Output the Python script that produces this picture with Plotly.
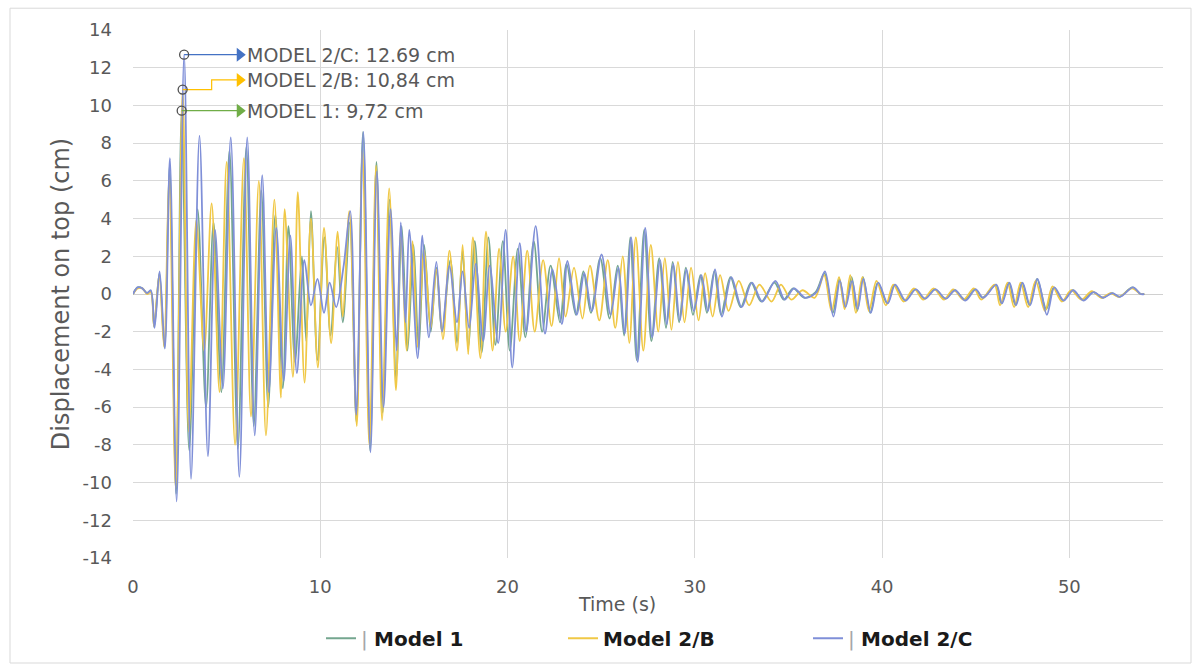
import plotly.graph_objects as go

# ---- data (time s, displacement cm), peaks and troughs ----
model_1 = [
    (0.0, 0.0), (0.25, 0.35), (0.5, 0.3), (0.75, 0.05), (0.95, 0.15), (1.13, -1.75), (1.41, 1.1),
    (1.68, -2.85), (1.95, 6.8), (2.3, -10.6), (2.6, 9.72), (3.0, -8.3), (3.45, 4.5), (3.9, -6.0),
    (4.3, 3.8), (4.72, -5.2), (5.15, 7.6), (5.6, -8.2), (6.05, 7.8), (6.45, -7.0), (6.85, 5.5),
    (7.22, -6.0), (7.6, 4.2), (8.0, -5.0), (8.3, 3.6), (8.65, -3.6), (9.02, 2.0), (9.25, -2.5),
    (9.5, 4.4), (9.85, -3.5), (10.22, 3.0), (10.55, -2.2), (10.9, 2.5), (11.2, -1.5), (11.58, 3.8),
    (11.93, -6.8), (12.28, 8.6), (12.66, -8.3), (13.0, 7.0), (13.33, -6.3), (13.7, 5.0), (14.05, -4.5),
    (14.35, 3.6), (14.66, -3.0), (14.98, 2.6), (15.25, -3.0), (15.55, 2.6), (15.9, -2.0), (16.2, 1.4),
    (16.5, -2.0), (16.95, 1.8), (17.3, -2.6), (17.6, 2.3), (17.9, -2.8), (18.25, 2.8), (18.62, -3.1),
    (18.98, 3.0), (19.35, -2.7), (19.75, 2.8), (20.12, -3.0), (20.55, 2.4), (20.95, -2.3), (21.4, 2.8),
    (21.85, -2.0), (22.3, 1.5), (22.8, -1.5), (23.15, 1.6), (23.65, -1.1), (24.05, 1.2), (24.45, -1.0),
    (24.95, 1.9), (25.45, -1.3), (25.88, 1.5), (26.22, -2.2), (26.55, 3.0), (26.9, -3.5), (27.3, 3.4),
    (27.68, -2.5), (28.1, 1.9), (28.46, -1.8), (28.82, 1.7), (29.16, -1.5), (29.52, 1.4), (29.9, -1.1),
    (30.3, 1.0), (30.65, -1.0), (31.04, 1.2), (31.4, -1.1), (31.9, 0.9), (32.45, -0.7), (33.0, 0.6),
    (33.55, -0.4), (34.25, 0.6), (34.75, -0.3), (35.25, 0.3), (35.85, -0.2), (36.45, 0.1), (36.92, 1.1),
    (37.37, -1.0), (37.72, 0.8), (38.02, -0.7), (38.37, 0.9), (38.67, -0.9), (38.98, 0.9), (39.37, -1.0),
    (39.77, 0.6), (40.27, -0.5), (40.67, 0.5), (41.22, -0.35), (41.77, 0.25), (42.27, -0.25), (42.82, 0.25),
    (43.37, -0.25), (43.87, 0.2), (44.42, -0.3), (44.97, 0.25), (45.37, -0.2), (46.07, 0.5), (46.37, -0.5),
    (46.77, 0.6), (47.12, -0.6), (47.47, 0.6), (47.87, -0.6), (48.27, 0.8), (48.77, -0.8), (49.17, 0.35),
    (49.67, -0.35), (50.17, 0.2), (50.72, -0.3), (51.27, 0.1), (51.77, -0.2), (52.27, 0.05), (52.67, -0.15),
    (53.37, 0.35), (53.8, 0.0), (54.0, 0.0),
]

model_2b = [
    (0.0, 0.0), (0.25, 0.3), (0.5, 0.3), (0.75, 0.0), (0.95, 0.1), (1.12, -1.7), (1.4, 1.0), (1.66, -2.8),
    (1.93, 6.2), (2.28, -10.3), (2.65, 10.84), (2.98, -7.3), (3.38, 3.9), (3.8, -3.0), (4.2, 4.8),
    (4.62, -5.2), (5.0, 7.0), (5.45, -8.0), (5.92, 7.2), (6.3, -6.5), (6.72, 6.0), (7.1, -7.5),
    (7.55, 5.0), (7.9, -5.5), (8.1, 4.5), (8.54, -4.4), (8.8, 5.4), (9.16, -4.7), (9.5, 4.0),
    (9.87, -3.9), (10.2, 3.5), (10.58, -2.6), (10.93, 3.3), (11.2, -1.2), (11.55, 4.4), (11.95, -7.0),
    (12.25, 7.6), (12.62, -8.0), (12.98, 6.8), (13.3, -6.7), (13.68, 5.6), (14.04, -5.1), (14.3, 3.4),
    (14.62, -3.0), (14.93, 2.8), (15.2, -2.8), (15.55, 2.3), (15.9, -1.8), (16.2, 1.3), (16.55, -2.4),
    (16.9, 2.3), (17.3, -3.0), (17.6, 2.6), (17.9, -3.2), (18.15, 3.0), (18.55, -3.4), (18.85, 3.3),
    (19.2, -3.0), (19.55, 2.4), (19.9, -2.0), (20.3, 2.0), (20.65, -2.5), (21.05, 2.3), (21.45, -2.0),
    (21.9, 1.8), (22.35, -1.7), (22.75, 1.9), (23.1, -1.2), (23.55, 1.4), (24.0, -1.3), (24.4, 1.5),
    (24.9, -1.4), (25.35, 1.8), (25.75, -1.8), (26.15, 2.0), (26.5, -2.6), (26.85, 3.0), (27.25, -3.0),
    (27.65, 2.6), (28.05, -2.0), (28.4, 1.9), (28.75, -1.9), (29.1, 1.7), (29.45, -1.5), (29.8, 1.4),
    (30.2, -1.4), (30.55, 1.1), (30.95, -1.2), (31.35, 1.0), (31.8, -0.9), (32.35, 0.7), (32.9, -0.6),
    (33.45, 0.5), (34.1, -0.4), (34.6, 0.5), (35.15, -0.3), (35.75, 0.2), (36.4, -0.2), (36.9, 1.0),
    (37.3, -0.9), (37.7, 0.9), (38.0, -0.8), (38.3, 1.0), (38.6, -1.0), (38.95, 0.9), (39.3, -0.9),
    (39.7, 0.7), (40.2, -0.6), (40.6, 0.5), (41.15, -0.4), (41.7, 0.3), (42.2, -0.3), (42.75, 0.3),
    (43.3, -0.3), (43.8, 0.25), (44.35, -0.3), (44.9, 0.3), (45.3, -0.3), (46.0, 0.5), (46.3, -0.6),
    (46.7, 0.6), (47.05, -0.7), (47.4, 0.6), (47.8, -0.7), (48.2, 0.7), (48.7, -0.9), (49.1, 0.4),
    (49.6, -0.4), (50.1, 0.2), (50.65, -0.3), (51.2, 0.15), (51.7, -0.2), (52.2, 0.05), (52.65, -0.15),
    (53.35, 0.3), (53.8, 0.0), (54.0, 0.0),
]

model_2c = [
    (0.0, 0.0), (0.25, 0.35), (0.5, 0.3), (0.75, 0.05), (0.95, 0.2), (1.15, -1.8), (1.42, 1.2),
    (1.7, -2.9), (1.97, 7.2), (2.33, -11.0), (2.73, 12.69), (3.1, -9.8), (3.55, 8.4), (4.0, -8.6),
    (4.38, 3.4), (4.8, -5.0), (5.22, 8.3), (5.68, -9.7), (6.1, 8.3), (6.5, -7.5), (6.9, 6.3),
    (7.25, -5.2), (7.65, 3.5), (8.05, -4.6), (8.4, 3.1), (8.75, -4.2), (9.15, 1.8), (9.5, -0.6),
    (9.85, 0.8), (10.2, -1.0), (10.5, 0.6), (10.85, -0.7), (11.25, 1.5), (11.6, 4.4), (11.92, -6.4),
    (12.3, 8.6), (12.68, -8.4), (13.02, 6.5), (13.38, -6.0), (13.75, 4.5), (14.08, -3.0), (14.3, 3.8),
    (14.55, -1.5), (14.75, 3.4), (15.2, -3.4), (15.45, 3.1), (15.8, -2.3), (16.2, 1.7), (16.5, -2.0),
    (16.9, 1.5), (17.3, -1.5), (17.6, 1.2), (17.95, -1.8), (18.3, 1.6), (18.7, -2.5), (19.05, 1.5),
    (19.5, -2.6), (19.9, 3.4), (20.25, -3.9), (20.65, 2.7), (21.0, -2.0), (21.5, 3.6), (22.0, -2.1),
    (22.4, 1.3), (22.9, -1.6), (23.2, 1.75), (23.7, -1.1), (24.1, 1.1), (24.5, -0.9), (25.02, 2.1),
    (25.5, -1.1), (25.92, 1.4), (26.25, -2.1), (26.6, 3.0), (26.95, -3.6), (27.35, 3.5), (27.72, -2.3),
    (28.15, 1.8), (28.5, -1.6), (28.85, 1.6), (29.2, -1.4), (29.55, 1.3), (29.95, -0.9), (30.35, 1.0),
    (30.7, -0.9), (31.08, 1.3), (31.45, -1.2), (31.95, 0.9), (32.5, -0.7), (33.05, 0.6), (33.6, -0.4),
    (34.3, 0.7), (34.8, -0.3), (35.3, 0.3), (35.9, -0.2), (36.5, 0.1), (36.95, 1.2), (37.4, -1.2),
    (37.75, 0.7), (38.05, -0.7), (38.4, 0.7), (38.7, -0.8), (39.0, 0.8), (39.4, -1.0), (39.8, 0.6),
    (40.3, -0.5), (40.7, 0.5), (41.25, -0.35), (41.8, 0.25), (42.3, -0.25), (42.85, 0.25), (43.4, -0.25),
    (43.9, 0.2), (44.45, -0.35), (45.0, 0.25), (45.4, -0.2), (46.1, 0.5), (46.4, -0.5), (46.8, 0.6),
    (47.15, -0.6), (47.5, 0.6), (47.9, -0.6), (48.3, 0.8), (48.8, -1.1), (49.2, 0.35), (49.7, -0.35),
    (50.2, 0.2), (50.75, -0.35), (51.3, 0.1), (51.8, -0.2), (52.3, 0.05), (52.7, -0.15), (53.4, 0.35),
    (53.8, 0.0), (54.0, 0.0),
]

series_data = [model_1, model_2b, model_2c]
series_names = ["Model 1", "Model 2/B", "Model 2/C"]
legend_labels = [
    '<span style="color:#a6a6a6">|</span> <b>Model 1</b>',
    '<b>Model 2/B</b>',
    '<span style="color:#a6a6a6">|</span> <b>Model 2/C</b>',
]
line_colors = ["#74A68F", "#F0C846", "#7F8FD8"]
accent_colors = ["#70AD47", "#FFC000", "#4472C4"]
peak_labels = ["MODEL 1: 9,72 cm", "MODEL 2/B: 10,84 cm", "MODEL 2/C: 12.69 cm"]
label_levels = [None, 11.35, None]   # None -> label at the peak level

x_ticks = [0, 10, 20, 30, 40, 50]
y_ticks = list(range(-14, 15, 2))
y_tick_text = [str(v) for v in y_ticks]   # plain hyphen-minus like the reference
x_tick_text = [str(v) for v in x_ticks]

FONT = "DejaVu Sans, Liberation Sans, sans-serif"
GREY = "#595959"

# layout geometry (pixels)
W, H = 1202, 670
ML, MR, MT, MB = 133, 39, 30, 107
PW, PH = W - ML - MR, H - MT - MB

fig = go.Figure()
legend_ids = ["legend", "legend2", "legend3"]
for data, name, lab, col, lg in zip(series_data, series_names, legend_labels, line_colors, legend_ids):
    t = [p[0] for p in data]
    v = [p[1] for p in data]
    fig.add_trace(go.Scatter(
        x=t, y=v, mode="lines", name=lab, legend=lg,
        line=dict(color=col, width=1.8, shape="spline", smoothing=0.9),
        hovertemplate=name + ": %{y:.2f} cm at %{x:.2f} s<extra></extra>",
    ))

# peak call-outs
arrow_t = 5.7
text_t = 6.0
elbow_t = 4.2
for data, col, lab, lvl in zip(series_data, accent_colors, peak_labels, label_levels):
    pk = max(data, key=lambda p: p[1])
    level = pk[1] if lvl is None else lvl
    if lvl is None:
        xs, ys = [pk[0], arrow_t], [pk[1], pk[1]]
    else:
        xs, ys = [pk[0], elbow_t, elbow_t, arrow_t], [pk[1], pk[1], level, level]
    fig.add_trace(go.Scatter(x=xs, y=ys, mode="lines", line=dict(color=col, width=1.2),
                             showlegend=False, hoverinfo="skip"))
    fig.add_trace(go.Scatter(x=[arrow_t], y=[level], mode="markers",
                             marker=dict(symbol="triangle-right", size=12, color=col),
                             showlegend=False, hoverinfo="skip"))
    fig.add_trace(go.Scatter(x=[pk[0]], y=[pk[1]], mode="markers",
                             marker=dict(symbol="circle-open", size=9, color="#505050",
                                         line=dict(width=1.3, color="#505050")),
                             showlegend=False, hoverinfo="skip"))
    fig.add_annotation(x=text_t, y=level, text=lab, showarrow=False, xanchor="left",
                       yanchor="middle", font=dict(family=FONT, size=19, color=GREY))

# x-axis title placed like the reference
fig.add_annotation(xref="paper", yref="paper", x=(617 - ML) / PW, y=-(609 - (MT + PH)) / PH,
                   text="Time (s)", showarrow=False, xanchor="center", yanchor="middle",
                   font=dict(family=FONT, size=19, color=GREY))

# outer chart border
fig.add_shape(type="rect", xref="paper", yref="paper",
              x0=(10 - ML) / PW, x1=(1191 - ML) / PW,
              y0=-(669 - (MT + PH)) / PH, y1=(MT + PH - 8) / PH,
              line=dict(color="#d9d9d9", width=1), fillcolor="rgba(0,0,0,0)", layer="below")

legend_common = dict(orientation="h", yanchor="middle", xanchor="left",
                     font=dict(family=FONT, size=20, color="#1a1a1a"),
                     bgcolor="rgba(0,0,0,0)")
leg_y = -(644 - (MT + PH)) / PH

fig.update_layout(
    width=W, height=H,
    margin=dict(l=ML, r=MR, t=MT, b=MB),
    paper_bgcolor="white", plot_bgcolor="white",
    font=dict(family=FONT, color=GREY),
    legend=dict(x=(321 - ML) / PW, y=leg_y, **legend_common),
    legend2=dict(x=(563 - ML) / PW, y=leg_y, **legend_common),
    legend3=dict(x=(808 - ML) / PW, y=leg_y, **legend_common),
    xaxis=dict(range=[0, 55], tickvals=x_ticks, ticktext=x_tick_text, showgrid=True,
               gridcolor="#d9d9d9", gridwidth=1, zeroline=False, showline=False, ticks="",
               tickfont=dict(family=FONT, size=18, color=GREY), ticklabelstandoff=16),
    yaxis=dict(range=[-14, 14], tickvals=y_ticks, ticktext=y_tick_text, showgrid=True,
               gridcolor="#d9d9d9", gridwidth=1, zeroline=True, zerolinecolor="#d0d0d0",
               zerolinewidth=1, showline=False, ticks="",
               tickfont=dict(family=FONT, size=18, color=GREY), ticklabelstandoff=20,
               title=dict(text="Displacement on top (cm)", standoff=6,
                          font=dict(family=FONT, size=24, color=GREY))),
)

fig.write_html("out.html")
